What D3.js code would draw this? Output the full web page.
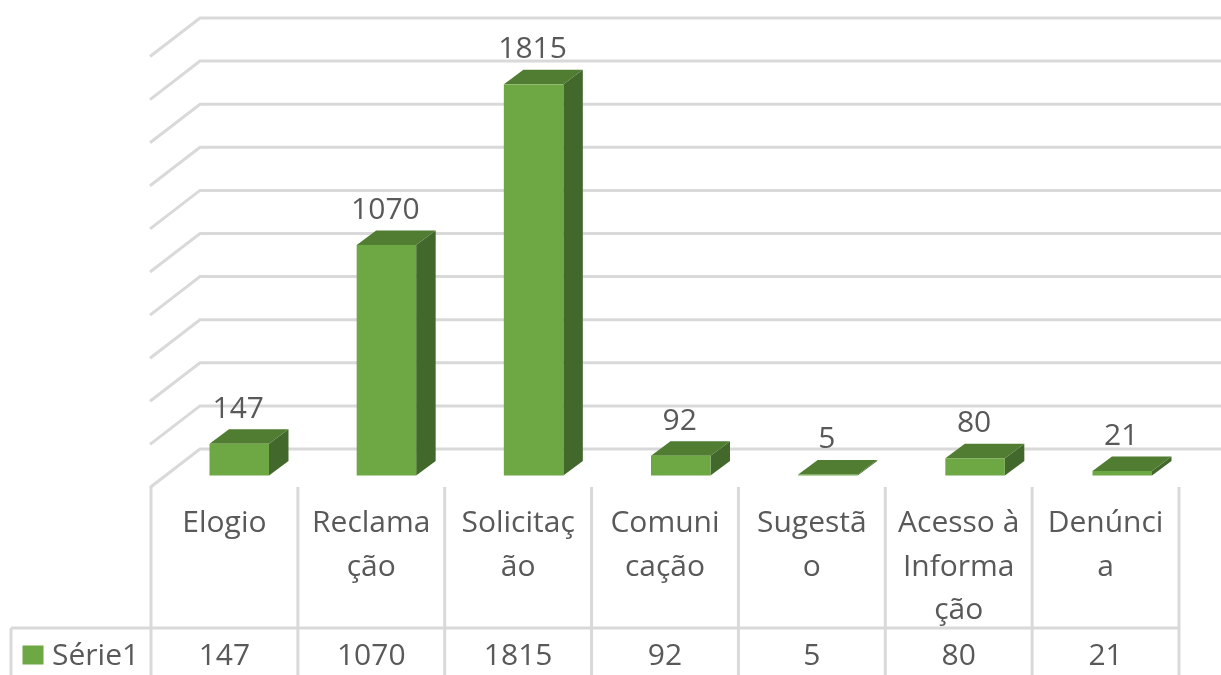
<!DOCTYPE html>
<html>
<head>
<meta charset="utf-8">
<script src="https://cdn.jsdelivr.net/npm/d3@7"></script>
<style>
  html, body { margin: 0; padding: 0; background: #fff; overflow: hidden; }
  svg { display: block; filter: blur(0.7px); }
  text { font-family: "Open Sans", Lato, sans-serif; font-size: 30px; fill: #595959; }
  .grid { stroke: #d9d9d9; stroke-width: 3; fill: none; }
</style>
</head>
<body>
<div id="chart"></div>
<script>
// chart data
const categories = ["Elogio", "Reclamação", "Solicitação", "Comunicação", "Sugestão", "Acesso à Informação", "Denúncia"];
const categoryLines = [
    ["Elogio"],
    ["Reclama", "ção"],
    ["Solicitaç", "ão"],
    ["Comuni", "cação"],
    ["Sugestã", "o"],
    ["Acesso à", "Informa", "ção"],
    ["Denúnci", "a"]
];
const values = [147, 1070, 1815, 92, 5, 80, 21];
const seriesName = "Série1";

const width = 1221, height = 675;

// depth of the 3d box: wall against front of floor, and bar depth
const wallDx = 50, wallDy = -38.5;
const barDx = 19.5, barDy = -14.5;
const barOffsetY = 26.5;   // bars stand in the middle of the floor
const barWidth = 59.5;

const y = d3.scaleLinear().domain([0, 2000]).range([449, 18]);
const x = d3.scaleBand().domain(categories).range([151, 1179]);
const barX = d3.scalePoint().domain(categories).range([209.5, 1092.5]);

const tableTop = 628, axisTop = 487;

const svg = d3.select("#chart")
      .append("svg")
      .attr("width", width)
      .attr("height", height);

// gridlines, back wall plus the side wall
const gridPath = d3.line();
svg.append("g")
    .selectAll("path")
    .data(y.ticks(10))
    .join("path")
    .attr("class", "grid")
    .attr("d", d => gridPath([
        [x.range()[0] - 1, y(d) - wallDy],
        [x.range()[0] - 1 + wallDx, y(d)],
        [width + 5, y(d)]
    ]));

// bars
const bars = svg.append("g")
      .selectAll("g")
      .data(categories)
      .join("g");

const box = (i) => {
    const x0 = barX(categories[i]),
          x1 = x0 + barWidth,
          y0 = y(0) + barOffsetY,
          y1 = y(values[i]) + barOffsetY;
    return {x0, x1, y0, y1};
};
const poly = (pts) => pts.map(p => p.join(",")).join(" ");

bars.append("polygon")
    .attr("fill", "#43682b")
    .attr("points", (d, i) => {
        const b = box(i);
        return poly([[b.x1, b.y1], [b.x1 + barDx, b.y1 + barDy], [b.x1 + barDx, b.y0 + barDy], [b.x1, b.y0]]);
    });
bars.append("polygon")
    .attr("fill", "#507d32")
    .attr("points", (d, i) => {
        const b = box(i);
        return poly([[b.x0, b.y1], [b.x0 + barDx, b.y1 + barDy], [b.x1 + barDx, b.y1 + barDy], [b.x1, b.y1]]);
    });
bars.append("rect")
    .attr("fill", "#6da845")
    .attr("x", (d, i) => box(i).x0)
    .attr("y", (d, i) => box(i).y1)
    .attr("width", barWidth)
    .attr("height", (d, i) => box(i).y0 - box(i).y1);

// data labels over the bars
bars.append("text")
    .attr("text-anchor", "middle")
    .attr("x", (d, i) => box(i).x0 + barWidth / 2 - 1)
    .attr("y", (d, i) => box(i).y1 + barDy - 11.5)
    .text((d, i) => values[i]);

// data table grid
const table = svg.append("g");
const edges = categories.map(c => x(c)).concat([x.range()[1]]);
table.selectAll("line.col")
    .data(edges)
    .join("line")
    .attr("class", "grid col")
    .attr("x1", d => d).attr("x2", d => d)
    .attr("y1", axisTop).attr("y2", height);
table.append("line")
    .attr("class", "grid")
    .attr("x1", 11).attr("x2", x.range()[1])
    .attr("y1", tableTop).attr("y2", tableTop);
table.append("line")
    .attr("class", "grid")
    .attr("x1", 11).attr("x2", 11)
    .attr("y1", tableTop).attr("y2", height);

// category names, wrapped as in the cells
const lineStep = 43.5;
table.selectAll("text.cat")
    .data(categoryLines)
    .join("text")
    .attr("class", "cat")
    .attr("text-anchor", "middle")
    .selectAll("tspan")
    .data((d, i) => d.map((t, k) => ({t, k, c: categories[i]})))
    .join("tspan")
    .attr("x", d => x(d.c) + x.bandwidth() / 2)
    .attr("y", d => 532 + d.k * lineStep)
    .text(d => d.t);

// values row
table.selectAll("text.val")
    .data(values)
    .join("text")
    .attr("class", "val")
    .attr("text-anchor", "middle")
    .attr("x", (d, i) => x(categories[i]) + x.bandwidth() / 2)
    .attr("y", 665)
    .text(d => d);

// legend key
table.append("rect")
    .attr("x", 22.5).attr("y", 645.5)
    .attr("width", 21).attr("height", 19)
    .attr("fill", "#6da845");
table.append("text")
    .attr("x", 52).attr("y", 665)
    .text(seriesName);
</script>
</body>
</html>
